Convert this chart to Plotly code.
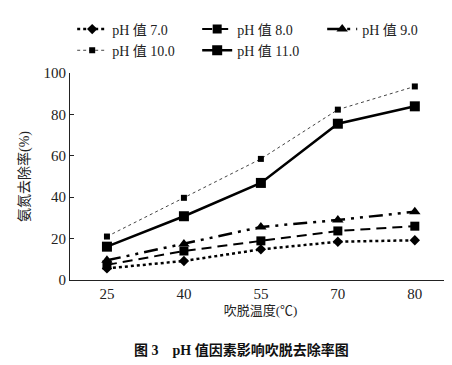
import plotly.graph_objects as go

temps = ["25", "40", "55", "70", "80"]
ph7 = [5.6, 9.2, 14.8, 18.5, 19.2]
ph8 = [7.3, 14.0, 18.9, 23.7, 26.0]
ph9 = [9.5, 17.4, 25.6, 29.0, 33.0]
ph10 = [21.0, 39.7, 58.5, 82.3, 93.5]
ph11 = [16.1, 30.8, 46.9, 75.5, 83.9]
names = ["pH 值 7.0", "pH 值 8.0", "pH 值 9.0", "pH 值 10.0", "pH 值 11.0"]

LAT = "Liberation Serif, Noto Sans CJK SC, serif"

fig = go.Figure()
fig.add_trace(go.Scatter(x=temps, y=ph7, name=names[0], mode="lines+markers",
                         line=dict(color="black", width=2.5, dash="dot"),
                         marker=dict(symbol="diamond", size=8, color="black")))
fig.add_trace(go.Scatter(x=temps, y=ph8, name=names[1], mode="lines+markers",
                         line=dict(color="black", width=2, dash="10px,6px"),
                         marker=dict(symbol="square", size=9, color="black")))
fig.add_trace(go.Scatter(x=temps, y=ph9, name=names[2], mode="lines+markers",
                         line=dict(color="black", width=2.5, dash="14px,6px,3px,6px,3px,6px"),
                         marker=dict(symbol="triangle-up", size=10, color="black")))
fig.add_trace(go.Scatter(x=temps, y=ph10, name=names[3], mode="lines+markers",
                         line=dict(color="#444", width=1, dash="dot"),
                         marker=dict(symbol="square", size=6, color="black")))
fig.add_trace(go.Scatter(x=temps, y=ph11, name=names[4], mode="lines+markers",
                         line=dict(color="black", width=2.5),
                         marker=dict(symbol="square", size=10, color="black")))

fig.update_layout(
    width=452, height=365,
    margin=dict(l=62, r=9, t=65, b=93, autoexpand=False),
    paper_bgcolor="white", plot_bgcolor="white",
    font=dict(family=LAT, size=14, color="#222"),
    legend=dict(orientation="h", x=0.142, xref="container", y=0.985, yref="container",
                yanchor="top", xanchor="left",
                entrywidth=80, entrywidthmode="pixels",
                font=dict(family=LAT, size=14), tracegroupgap=0,
                bgcolor="rgba(0,0,0,0)"),
    showlegend=True,
    xaxis=dict(type="category", range=[-0.48, 4.47], showline=True, linecolor="#222",
               linewidth=1, ticks="", showgrid=False, zeroline=False,
               tickfont=dict(family=LAT, size=15),
               title=dict(text="吹脱温度(℃)", font=dict(family=LAT, size=13, color="#222"), standoff=4)),
    yaxis=dict(range=[0, 100], dtick=20, showline=True, linecolor="#222", linewidth=1,
               ticks="inside", ticklen=4, tickcolor="#222", showgrid=False, zeroline=False,
               tickfont=dict(family=LAT, size=15),
               title=dict(text="氨氮去除率(%)", font=dict(family=LAT, size=14, color="#222"), standoff=10)),
)

fig.add_annotation(text="<b>图 3　pH 值因素影响吹脱去除率图</b>", x=0.449, y=-0.386,
                   xref="paper", yref="paper", showarrow=False,
                   font=dict(family=LAT, size=14, color="#111"))

fig.write_html("out.html")
